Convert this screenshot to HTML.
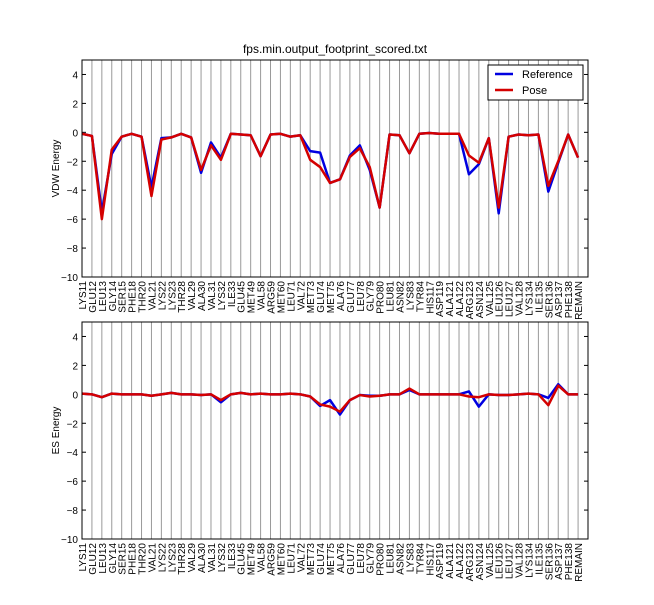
<!DOCTYPE html>
<html><head><meta charset="utf-8"><style>
body{margin:0;background:#fff;}
svg text{font-family:"Liberation Sans","DejaVu Sans",sans-serif;fill:#000;}
</style></head><body>
<svg id="chart" width="654" height="600" xmlns="http://www.w3.org/2000/svg"></svg>
<script>
const categories=["LYS11","GLU12","LEU13","GLY14","SER15","PHE18","THR20","VAL21","LYS22","LYS23","THR28","VAL29","ALA30","VAL31","LYS32","ILE33","GLU45","MET49","VAL58","ARG59","MET60","LEU71","VAL72","MET73","GLU74","MET75","ALA76","GLU77","LEU78","GLY79","PRO80","LEU81","ASN82","LYS83","TYR84","HIS117","ASP119","ALA121","ALA122","ARG123","ASN124","VAL125","LEU126","LEU127","VAL128","LYS134","ILE135","SER136","ASP137","PHE138","REMAIN"];
const vdwReference=[-0.1,-0.25,-5.5,-1.5,-0.3,-0.1,-0.3,-3.8,-0.4,-0.35,-0.1,-0.35,-2.8,-0.7,-1.75,-0.1,-0.15,-0.2,-1.65,-0.15,-0.1,-0.3,-0.2,-1.3,-1.4,-3.5,-3.25,-1.6,-0.9,-2.6,-5.2,-0.15,-0.2,-1.45,-0.1,-0.05,-0.1,-0.1,-0.1,-2.9,-2.2,-0.4,-5.6,-0.3,-0.15,-0.2,-0.15,-4.1,-2.1,-0.15,-1.75];
const vdwPose=[-0.1,-0.25,-6.0,-1.2,-0.3,-0.1,-0.3,-4.4,-0.5,-0.35,-0.1,-0.35,-2.6,-0.9,-1.9,-0.1,-0.15,-0.2,-1.65,-0.15,-0.1,-0.3,-0.2,-1.9,-2.4,-3.5,-3.25,-1.7,-1.1,-2.4,-5.2,-0.15,-0.2,-1.45,-0.1,-0.05,-0.1,-0.1,-0.1,-1.6,-2.1,-0.4,-5.2,-0.3,-0.15,-0.2,-0.15,-3.7,-2.0,-0.15,-1.75];
const esReference=[0.05,0,-0.2,0.05,0,0,0,-0.1,0,0.1,0,0,-0.05,0,-0.55,0,0.1,0,0.05,0,0,0.05,0,-0.15,-0.8,-0.4,-1.4,-0.4,-0.05,-0.1,-0.1,0,0,0.3,0,0,0,0,0,0.2,-0.85,0,-0.05,-0.05,0,0.05,0,-0.25,0.7,0,0];
const esPose=[0.05,0,-0.2,0.05,0,0,0,-0.1,0,0.1,0,0,-0.05,0,-0.4,0,0.1,0,0.05,0,0,0.05,0,-0.15,-0.7,-0.85,-1.2,-0.4,-0.05,-0.15,-0.1,0,0,0.4,0,0,0,0,0,-0.15,-0.2,0,-0.05,-0.05,0,0.05,0,-0.75,0.6,0,0];
const yTicks=[4,2,0,-2,-4,-6,-8,-10];

const NS="http://www.w3.org/2000/svg";
const svg=document.getElementById('chart');
function mk(tag,attrs,parent){const e=document.createElementNS(NS,tag);for(const k in attrs)e.setAttribute(k,attrs[k]);(parent||svg).appendChild(e);return e;}
const L=82,R=588,xMax=51;
const xs=i=>L+(i)*(R-L)/xMax;

const title=mk('text',{x:335,y:53,'text-anchor':'middle','font-size':12});


title.textContent='fps.min.output_footprint_scored.txt';

function panel(top,bottom,ref,pose,ylabel,name,legend){
  const g=mk('g',{});
  
  
  const ys=v=>top+(5-v)*(bottom-top)/15;
  categories.forEach((c,i)=>{
    const x=xs(i);
    const gl=mk('line',{x1:x,x2:x,y1:top,y2:bottom,stroke:'#999','stroke-width':1},g);
    
    
    const t=mk('text',{transform:`translate(${x+4},${bottom+4}) rotate(-90)`,'text-anchor':'end','font-size':10},g);
    
    
    t.textContent=c;
  });
  yTicks.forEach(v=>{
    const y=ys(v);
    mk('line',{x1:L,x2:L+4,y1:y,y2:y,stroke:'#000'},g);
    mk('line',{x1:R-4,x2:R,y1:y,y2:y,stroke:'#000'},g);
    const t=mk('text',{x:L-4,y:y+4,'text-anchor':'end','font-size':10},g);
    
    
    t.textContent=v<0?'\u2212'+Math.abs(v):String(v);
  });
  const yl=mk('text',{transform:`translate(59,${(top+bottom)/2}) rotate(-90)`,'text-anchor':'middle','font-size':10},g);
  
  
  yl.textContent=ylabel;
  const pts=a=>a.map((v,i)=>xs(i)+','+ys(v)).join(' ');
  const l1=mk('polyline',{points:pts(ref),fill:'none',stroke:'#0000e0','stroke-width':2.5,'stroke-linejoin':'round'},g);
  
  
  const l2=mk('polyline',{points:pts(pose),fill:'none',stroke:'#d40000','stroke-width':2.5,'stroke-linejoin':'round'},g);
  
  
  const fr=mk('rect',{x:L,y:top,width:R-L,height:bottom-top,fill:'none',stroke:'#000','stroke-width':1},g);
  
  
  if(legend){
    const lg=mk('g',{},g);
    
    
    mk('rect',{x:488,y:65,width:95,height:35,fill:'#fff',stroke:'#000'},lg);
    [['Reference','#0000e0',74],['Pose','#d40000',90]].forEach(([n,c,y])=>{
      const e=mk('g',{},lg);
      
      
      mk('line',{x1:495,x2:513,y1:y,y2:y,stroke:c,'stroke-width':2.5},e);
      const t=mk('text',{x:522,y:y+4,'font-size':11},e);
      t.textContent=n;
    });
  }
}
panel(60,277,vdwReference,vdwPose,'VDW Energy','vdw-panel',true);
panel(322,539,esReference,esPose,'ES Energy','es-panel',false);
</script>
</body></html>
